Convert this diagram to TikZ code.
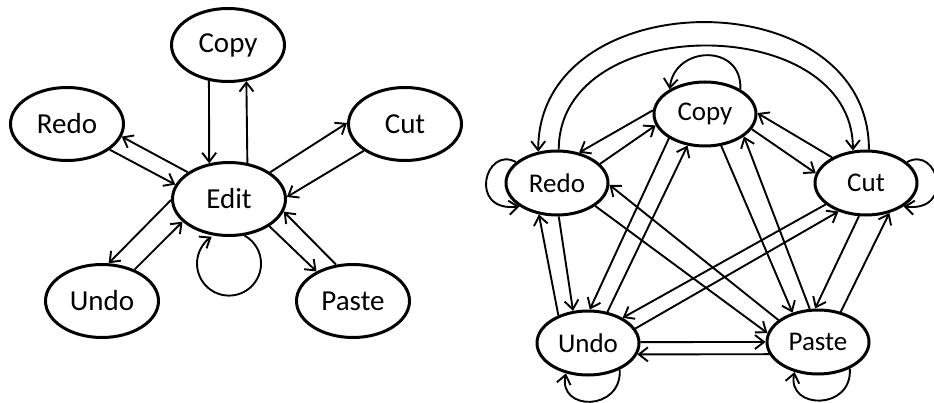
\documentclass[tikz,border=0pt]{standalone}
\usepackage{fontspec}
\setmainfont{Carlito}
\usetikzlibrary{arrows.meta,shapes.geometric}
\begin{document}
\begin{tikzpicture}[x=1pt,y=1pt,
  bigstate/.style={ellipse,draw,line width=3pt,minimum width=113pt,minimum height=73pt,inner sep=0pt,font=\fontsize{29}{31}\selectfont},
  smallstate/.style={ellipse,draw,line width=3pt,minimum width=102pt,minimum height=64pt,inner sep=0pt,font=\fontsize{27}{29}\selectfont},
  conn/.style={line width=1.9pt,-{Straight Barb[length=9pt,width=14pt]}}
]
\useasboundingbox[fill=white] (0,0) rectangle (934,402);
% left graph
\node[bigstate] (Edit) at (229,203) {Edit};
\node[bigstate] (Copy) at (228,357) {Copy};
\node[bigstate] (Redo) at (67,278) {Redo};
\node[bigstate] (Cut) at (405,278) {Cut};
\node[bigstate] (Undo) at (102,101) {Undo};
\node[bigstate] (Paste) at (353,101) {Paste};
\draw[conn] (Copy.242) -- (Edit.119);
\draw[conn] (Edit.63) -- (Copy.297);
\draw[conn] (Edit.147) -- (Redo.347);
\draw[conn] (Redo.329) -- (Edit.165);
\draw[conn] (Edit.33) -- (Cut.179);
\draw[conn] (Cut.213) -- (Edit.2);
\draw[conn] (Edit.181) -- (Undo.80);
\draw[conn] (Undo.44) -- (Edit.206);
\draw[conn] (Edit.326) -- (Paste.141);
\draw[conn] (Paste.115) -- (Edit.347);
\draw[conn] (Edit.293) arc[start angle=61,end angle=-237,radius=32pt];
% right graph
\node[smallstate] (rCopy) at (705,288) {Copy};
\node[smallstate] (rRedo) at (557,219) {Redo};
\node[smallstate] (rCut) at (866,219) {Cut};
\node[smallstate] (rUndo) at (588,59) {Undo};
\node[smallstate] (rPaste) at (818,60) {Paste};
\draw[conn] (rCopy.176) -- (rRedo.54);
\draw[conn] (rRedo.24) -- (rCopy.193);
\draw[conn] (rCut.143) -- (rCopy.1);
\draw[conn] (rCopy.342) -- (rCut.169);
\draw[conn] (rCut.85) .. controls +(0,171) and +(0,171) .. (rRedo.121);
\draw[conn] (rRedo.87) .. controls +(0,139) and +(0,139) .. (rCut.112);
\draw[conn] (rUndo.137) -- (rRedo.240);
\draw[conn] (rRedo.273) -- (rUndo.115);
\draw[conn] (rRedo.329) -- (rPaste.170);
\draw[conn] (rPaste.151) -- (rRedo.358);
\draw[conn] (rCopy.214) -- (rUndo.87);
\draw[conn] (rUndo.58) -- (rCopy.241);
\draw[conn] (rCopy.297) -- (rPaste.131);
\draw[conn] (rPaste.104) -- (rCopy.330);
\draw[conn] (rCut.208) -- (rUndo.36);
\draw[conn] (rUndo.17) -- (rCut.226);
\draw[conn] (rCut.258) -- (rPaste.95);
\draw[conn] (rPaste.53) -- (rCut.308);
\draw[conn] (rUndo.1) -- (rPaste.180);
\draw[conn] (rPaste.194) -- (rUndo.347);
% self loops
\draw[conn] (rCopy.35) .. controls +(2,46) and +(5,44) .. (rCopy.145);
\draw[conn] (rRedo.153) .. controls +(-31,17) and +(-52,-6) .. (rRedo.212);
\draw[conn] (rCut.27) .. controls +(31,17) and +(52,-6) .. (rCut.328);
\draw[conn] (rUndo.320) .. controls +(2,-42) and +(-8,-38) .. (rUndo.234);
\draw[conn] (rPaste.320) .. controls +(3,-42) and +(-8,-38) .. (rPaste.232);
\end{tikzpicture}
\end{document}
